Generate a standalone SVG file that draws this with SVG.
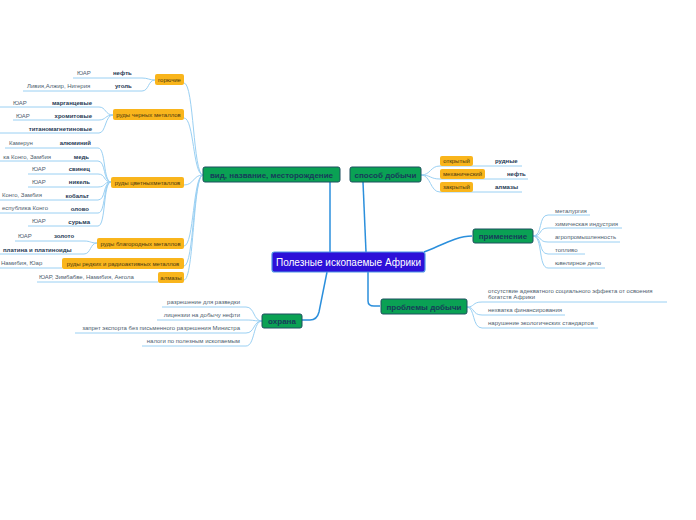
<svg xmlns="http://www.w3.org/2000/svg" width="696" height="520" viewBox="0 0 696 520">
<style>
.bg{fill:#ffffff}
.ln{fill:none;stroke:#9ad0f3;stroke-width:1}
.mc{fill:none;stroke:#2b8fdc;stroke-width:1.5}
.ob{fill:#f9b51c}
.ot{font-family:"Liberation Sans",Arial,sans-serif;font-size:6px;fill:#4d3a10;text-anchor:middle}
.lv{font-family:"Liberation Sans",Arial,sans-serif;font-size:6px;fill:#4e5e6e}
.lb{font-family:"Liberation Sans",Arial,sans-serif;font-size:6px;font-weight:bold;fill:#1f3a55}
.end{text-anchor:end}
.mn{fill:#0aa154;stroke:#1d4f5f;stroke-width:1}
.mt{font-family:"Liberation Sans",Arial,sans-serif;font-size:8px;font-weight:bold;fill:#173c5a;text-anchor:middle}
.cn{fill:#2d10d8;stroke:#4f95e6;stroke-width:1.2}
.ct{font-family:"Liberation Sans",Arial,sans-serif;font-size:10px;fill:#ffffff;text-anchor:middle}
</style>
<rect class="bg" x="0" y="0" width="696" height="520"/>
<g id="connectors">
<path class="mc" d="M330,182 L330,252"/>
<path class="mc" d="M363,182 L366,252"/>
<path class="mc" d="M368,272 L368,301 Q368,306 374,306 L380,306"/>
<path class="mc" d="M424,252 C440,246 456,236 472,236"/>
<path class="mc" d="M327,272 L319,312 Q317,320 310,320 L302,320"/>
<path class="ln" d="M203,175 C193,175 194,83 184,83"/>
<path class="ln" d="M203,175 C193,175 194,118 184,118"/>
<path class="ln" d="M203,175 C193,175 194,185 184,185"/>
<path class="ln" d="M203,175 C193,175 194,246 184,246"/>
<path class="ln" d="M203,175 C193,175 194,266 184,266"/>
<path class="ln" d="M203,175 C193,175 194,280 184,280"/>
<path class="ln" d="M73,78 L142,78 C148,78 149,80 155,80"/>
<path class="ln" d="M23,91 L142,91 C149,91 148,80 155,80"/>
<path class="ln" d="M0,107 L99,107 C106,107 105,115 113,115"/>
<path class="ln" d="M13,120 L99,120 C106,120 105,115 113,115"/>
<path class="ln" d="M0,133 L99,133 C106,133 105,115 113,115"/>
<path class="ln" d="M5,148 L98,148 C106,148 103,182 111,182"/>
<path class="ln" d="M0,161 L98,161 C106,161 103,182 111,182"/>
<path class="ln" d="M28,174 L98,174 C106,174 103,182 111,182"/>
<path class="ln" d="M28,187 L98,187 C106,187 103,182 111,182"/>
<path class="ln" d="M0,200 L98,200 C106,200 103,182 111,182"/>
<path class="ln" d="M0,213 L98,213 C106,213 103,182 111,182"/>
<path class="ln" d="M28,226 L98,226 C106,226 103,182 111,182"/>
<path class="ln" d="M15,241 L84,241 C91,241 90,243 97,243"/>
<path class="ln" d="M0,254 L84,254 C91,254 90,243 97,243"/>
<path class="ln" d="M0,268 L62,268"/>
<path class="ln" d="M37,282 L158,282"/>
<path class="ln" d="M421,175 C431,175 430,166 440,166 L522,166"/>
<path class="ln" d="M421,175 C431,175 430,179 440,179 L528,179"/>
<path class="ln" d="M421,175 C431,175 430,192 440,192 L522,192"/>
<path class="ln" d="M533,236 C543,236 538,215 548,215 L590,215"/>
<path class="ln" d="M533,236 C543,236 538,228 548,228 L622,228"/>
<path class="ln" d="M533,236 C543,236 538,242 548,242 L620,242"/>
<path class="ln" d="M533,236 C543,236 538,254 548,254 L585,254"/>
<path class="ln" d="M533,236 C543,236 538,268 548,268 L605,268"/>
<path class="ln" d="M467,307 C475,307 472,302 482,302 L667,302"/>
<path class="ln" d="M467,307 C475,307 472,315 482,315 L565,315"/>
<path class="ln" d="M467,307 C475,307 472,328 482,328 L598,328"/>
<path class="ln" d="M262,321 C253,321 255,307 246,307 L162,307"/>
<path class="ln" d="M262,321 C253,321 255,320 246,320 L157,320"/>
<path class="ln" d="M262,321 C253,321 255,333 246,333 L75,333"/>
<path class="ln" d="M262,321 C253,321 255,346 246,346 L142,346"/>
</g>
<g id="center">
<rect class="cn" x="272" y="252" width="153" height="20" rx="2.5"/>
<text class="ct" x="348.5" y="265.5">Полезные ископаемые Африки</text>
</g>
<g id="vid">
<rect class="mn" x="203" y="167" width="137" height="15" rx="2"/>
<text class="mt" x="271.5" y="177.5">вид, название, месторождение</text>
</g>
<g id="sposob">
<rect class="mn" x="350" y="167" width="71" height="15" rx="2"/>
<text class="mt" x="385.5" y="177.5">способ добычи</text>
</g>
<g id="primenenie">
<rect class="mn" x="473" y="229" width="60" height="14" rx="2"/>
<text class="mt" x="503" y="239">применение</text>
</g>
<g id="problemy">
<rect class="mn" x="381" y="299" width="86" height="15" rx="2"/>
<text class="mt" x="424" y="309.5">проблемы добычи</text>
</g>
<g id="ohrana">
<rect class="mn" x="262" y="314" width="40" height="14" rx="2"/>
<text class="mt" x="282" y="324">охрана</text>
</g>
<g id="goryuchie">
<rect class="ob" x="155" y="74" width="29" height="11" rx="2"/>
<text class="ot" x="169.5" y="81.5">горючие</text>
<text class="lv" x="77" y="75">ЮАР</text>
<text class="lb" x="113" y="75">нефть</text>
<text class="lv" x="27" y="88">Ливия,Алжир, Нигерия</text>
<text class="lb" x="115" y="88">уголь</text>
</g>
<g id="chernye">
<rect class="ob" x="113" y="109" width="71" height="11" rx="2"/>
<text class="ot" x="148.5" y="116.5">руды черных металлов</text>
<text class="lv" x="13" y="105">ЮАР</text>
<text class="lb end" x="92" y="105">марганцевые</text>
<text class="lv" x="16" y="118">ЮАР</text>
<text class="lb end" x="92" y="118">хромитовые</text>
<text class="lb end" x="92" y="131">титаномагнетиновые</text>
</g>
<g id="cvetnye">
<rect class="ob" x="111" y="177" width="73" height="11" rx="2"/>
<text class="ot" x="147.5" y="184.5">руды цветныхметаллов</text>
<text class="lv" x="9" y="145">Камерун</text>
<text class="lb end" x="91" y="145">алюминий</text>
<text class="lv end" x="51" y="159">ка Конго, Замбия</text>
<text class="lb end" x="89" y="159">медь</text>
<text class="lv" x="32" y="171">ЮАР</text>
<text class="lb end" x="90" y="171">свинец</text>
<text class="lv" x="32" y="184">ЮАР</text>
<text class="lb end" x="90" y="184">никель</text>
<text class="lv" x="2" y="197">Конго, Замбия</text>
<text class="lb end" x="89" y="198">кобальт</text>
<text class="lv end" x="48" y="210">еспублика Конго</text>
<text class="lb end" x="89" y="211">олово</text>
<text class="lv" x="32" y="223">ЮАР</text>
<text class="lb end" x="90" y="224">сурьма</text>
</g>
<g id="blagorodnye">
<rect class="ob" x="97" y="238" width="87" height="11" rx="2"/>
<text class="ot" x="140.5" y="245.5">руды благородных металлов</text>
<text class="lv" x="18" y="238">ЮАР</text>
<text class="lb" x="54" y="238">золото</text>
<text class="lb" x="3" y="252">платина и платиноиды</text>
</g>
<g id="redkie">
<rect class="ob" x="62" y="258" width="122" height="11" rx="2"/>
<text class="ot" x="123" y="265.5">руды редких и радиоактивных металлов</text>
<text class="lv" x="1" y="265">Намибия, Юар</text>
</g>
<g id="almazy">
<rect class="ob" x="158" y="272" width="26" height="11" rx="2"/>
<text class="ot" x="171" y="279.5">алмазы</text>
<text class="lv" x="39" y="279">ЮАР, Зимбабве, Намибия, Ангола</text>
</g>
<g id="sposob-items">
<rect class="ob" x="440" y="156" width="33" height="10" rx="2"/>
<text class="ot" x="456.5" y="163">открытый</text>
<text class="lb" x="495" y="163">рудные</text>
<rect class="ob" x="440" y="169" width="45" height="10" rx="2"/>
<text class="ot" x="462.5" y="176">механический</text>
<text class="lb" x="507" y="176">нефть</text>
<rect class="ob" x="440" y="182" width="33" height="10" rx="2"/>
<text class="ot" x="456.5" y="189">закрытый</text>
<text class="lb" x="495" y="189">алмазы</text>
</g>
<g id="primenenie-items">
<text class="lv" x="555" y="213">металургия</text>
<text class="lv" x="555" y="226">химическая индустрия</text>
<text class="lv" x="555" y="239">агропромышленность</text>
<text class="lv" x="555" y="252">топливо</text>
<text class="lv" x="555" y="265">ювелирное дело</text>
</g>
<g id="problemy-items">
<text class="lv" x="488" y="293">отсутствие адекватного социального эффекта от освоения</text>
<text class="lv" x="488" y="299">богатств Африки</text>
<text class="lv" x="488" y="312">нехватка финансирования</text>
<text class="lv" x="488" y="325">нарушение экологических стандартов</text>
</g>
<g id="ohrana-items">
<text class="lv end" x="240" y="304">разрешение для разведки</text>
<text class="lv end" x="240" y="317">лицензии на добычу нефти</text>
<text class="lv end" x="240" y="330">запрет экспорта без письменного разрешения Министра</text>
<text class="lv end" x="240" y="343">налоги по полезным ископаемым</text>
</g>
</svg>
